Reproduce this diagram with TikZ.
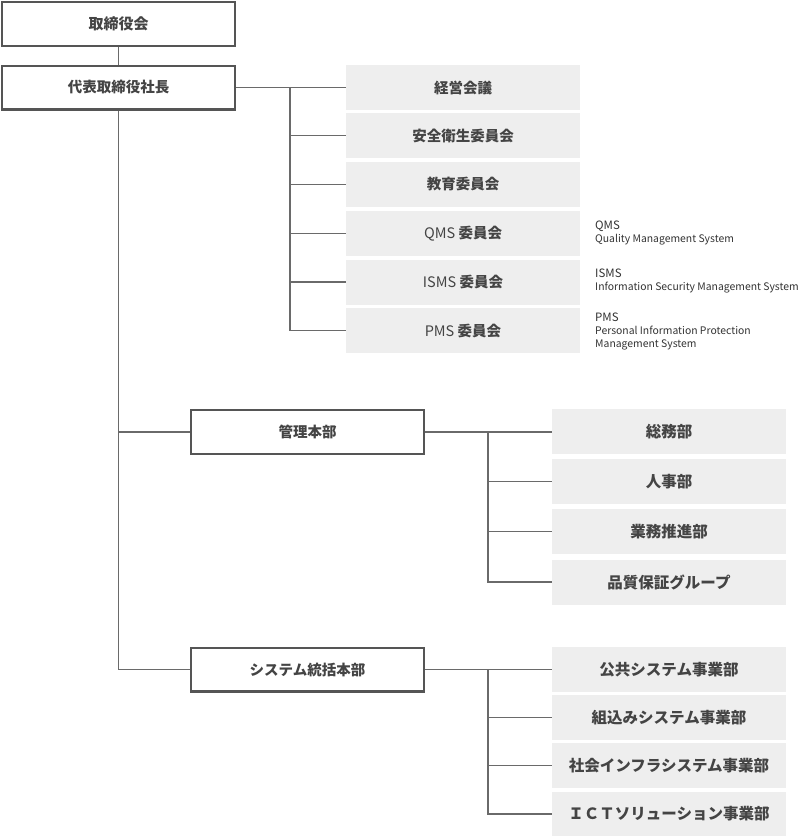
\documentclass[tikz,border=0pt]{standalone}
\usepackage{fontspec}
\setmainfont{Noto Sans CJK JP}
\usetikzlibrary{positioning}
\definecolor{framegray}{HTML}{555555}
\definecolor{linegray}{HTML}{6A6A6A}
\definecolor{boxgray}{HTML}{EEEEEE}
\definecolor{textgray}{HTML}{444444}
\definecolor{notegray}{HTML}{333333}
\newcommand{\lbl}{\bfseries\fontsize{14.5}{16}\selectfont}
\newcommand{\lblb}{\bfseries\fontsize{15.5}{17}\selectfont}
\newcommand{\abbr}[1]{{\mdseries #1}}

\begin{document}
\begin{tikzpicture}[x=1pt,y=-1pt,
  head/.style={draw=framegray,line width=2.4pt,fill=white,minimum width=232.6pt,
               minimum height=43.6pt,inner sep=0pt,font=\lbl,text=textgray},
  unit/.style={fill=boxgray,minimum width=234pt,minimum height=45pt,inner sep=0pt,
               font=\lbl,text=textgray},
  dept/.style={unit,font=\lblb},
  conn/.style={draw=linegray,line width=1.3pt},
  note/.style={anchor=base west,align=left,inner sep=0pt,text=notegray,
               font=\fontsize{10.4}{13}\selectfont}]
  \useasboundingbox (0,0) rectangle (800,836);
  % top of the chart
  \node[head] (board) at (118.5, 24  ) {\fontsize{15}{16}\selectfont 取締役会};
  \node[head] (ceo)   at (118.5, 87.5) {代表取締役社長};
  % committees
  \node[unit] (kaigi) at (463, 87.5) {経営会議};
  \node[unit] (anzen) at (463,135.5) {安全衛生委員会};
  \node[unit] (kyoik) at (463,184.5) {教育委員会};
  \node[unit] (qms)   at (463,233.5) {\abbr{QMS} 委員会};
  \node[unit] (isms)  at (463,282  ) {\abbr{ISMS} 委員会};
  \node[unit] (pms)   at (463,330.5) {\abbr{PMS} 委員会};
  \node[note] (qmsn)  at (595,242) {{\fontsize{11.5}{13}\selectfont QMS}\\Quality Management System};
  \node[note] (ismsn) at (595,290) {{\fontsize{11.5}{13}\selectfont ISMS}\\Information Security Management System};
  \node[note] (pmsn)  at (595,347) {{\fontsize{11.5}{13}\selectfont PMS}\\Personal Information Protection\\Management System};
  % divisions
  \node[head] (adm)   at (307.5,432  ) {管理本部};
  \node[head] (sys)   at (307.5,669.5) {システム統括本部};
  \node[dept] (somu)  at (669,431.5) {総務部};
  \node[dept] (jinji) at (669,481.5) {人事部};
  \node[dept] (gyomu) at (669,531.5) {業務推進部};
  \node[dept] (hinsh) at (669,582  ) {品質保証グループ};
  \node[dept] (kokyo) at (669,669.5) {公共システム事業部};
  \node[dept] (kumik) at (669,717.5) {組込みシステム事業部};
  \node[dept] (infra) at (669,765.5) {社会インフラシステム事業部};
  \node[dept] (ict)   at (669,814  ) {ＩＣＴソリューション事業部};
  % branch points
  \coordinate (cj) at (290,87.5);
  \coordinate (aj) at (488,432);
  \coordinate (sj) at (488,669.5);
  % lines
  \draw[conn] (board) -- (ceo);
  \draw[conn] (ceo.east) -- (kaigi.west);
  \draw[conn] (cj) |- (anzen.west);
  \draw[conn] (cj) |- (kyoik.west);
  \draw[conn] (cj) |- (qms.west);
  \draw[conn] (cj) |- (isms.west);
  \draw[conn] (cj) |- (pms.west);
  \draw[conn] (ceo.south) |- (sys.west);
  \draw[conn] (ceo.south |- adm.west) -- (adm.west);
  \draw[conn] (adm.east) -- (adm.east -| somu.west);
  \draw[conn] (aj) |- (jinji.west);
  \draw[conn] (aj) |- (gyomu.west);
  \draw[conn] (aj) |- (hinsh.west);
  \draw[conn] (sys.east) -- (kokyo.west);
  \draw[conn] (sj) |- (kumik.west);
  \draw[conn] (sj) |- (infra.west);
  \draw[conn] (sj) |- (ict.west);
\end{tikzpicture}
\end{document}
